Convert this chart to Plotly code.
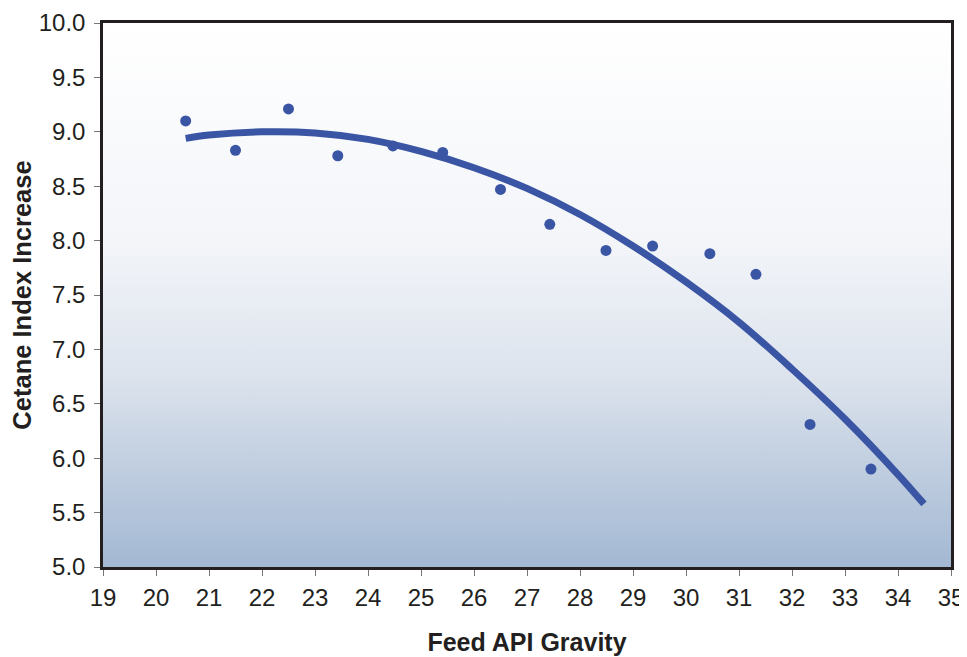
import plotly.graph_objects as go

# Measured data points (Feed API Gravity vs Cetane Index Increase)
api_gravity = [20.56, 21.50, 22.50, 23.43, 24.47, 25.41, 26.50, 27.43, 28.49, 29.37, 30.45, 31.32, 32.34, 33.49]
cetane_increase = [9.10, 8.83, 9.21, 8.78, 8.87, 8.81, 8.47, 8.15, 7.91, 7.95, 7.88, 7.69, 6.31, 5.90]

# Trend curve
trend_x = [20.56, 21, 22, 23, 24, 25, 26, 27, 28, 29, 30, 31, 32, 33, 34, 34.49]
trend_y = [8.94, 8.97, 9.00, 8.99, 8.93, 8.82, 8.67, 8.48, 8.24, 7.95, 7.62, 7.25, 6.82, 6.36, 5.85, 5.58]

x_range = [19, 35]
y_range = [5.0, 10.0]

blue = "#3a55a4"

fig = go.Figure()

# gradient background
fig.add_trace(go.Scatter(
    x=[x_range[0], x_range[1], x_range[1], x_range[0], x_range[0]],
    y=[y_range[0], y_range[0], y_range[1], y_range[1], y_range[0]],
    fill="toself", mode="none", hoverinfo="skip", showlegend=False,
    fillgradient=dict(type="vertical",
                      colorscale=[[0, "#a3b8d3"], [0.2, "#c3d0e1"], [0.35, "#dce3ed"],
                                  [0.6, "#f3f5f9"], [1, "#ffffff"]]),
))

fig.add_trace(go.Scatter(
    x=trend_x, y=trend_y, mode="lines",
    line=dict(color=blue, width=7, shape="spline"),
    showlegend=False,
))

fig.add_trace(go.Scatter(
    x=api_gravity, y=cetane_increase, mode="markers",
    marker=dict(color=blue, size=11),
    showlegend=False,
))

font = "Liberation Sans, Arial, sans-serif"

# page body adds an 8px offset; margins compensate for it
fig.update_layout(
    width=967, height=657,
    margin=dict(l=95, r=24, t=15, b=98),
    paper_bgcolor="white",
    plot_bgcolor="white",
    font=dict(family=font, size=24, color="#231f20"),
    xaxis=dict(
        range=x_range, dtick=1, tick0=19, automargin=False,
        showgrid=False, zeroline=False,
        showline=True, linecolor="#231f20", linewidth=2.5, mirror=True,
        ticks="outside", ticklen=6, tickcolor="#777777", tickwidth=1,
        ticklabelstandoff=1,
        title=dict(text="<b>Feed API Gravity</b>", font=dict(size=25), standoff=24),
    ),
    yaxis=dict(
        range=y_range, dtick=0.5, tick0=5, tickformat=".1f", automargin=False,
        showgrid=False, zeroline=False,
        showline=True, linecolor="#231f20", linewidth=2.5, mirror=True,
        ticks="outside", ticklen=6, tickcolor="#777777", tickwidth=1,
        ticklabelstandoff=4,
        title=dict(text="<b>Cetane Index Increase</b>", font=dict(size=25.5), standoff=8),
    ),
)

fig.write_html("out.html")
